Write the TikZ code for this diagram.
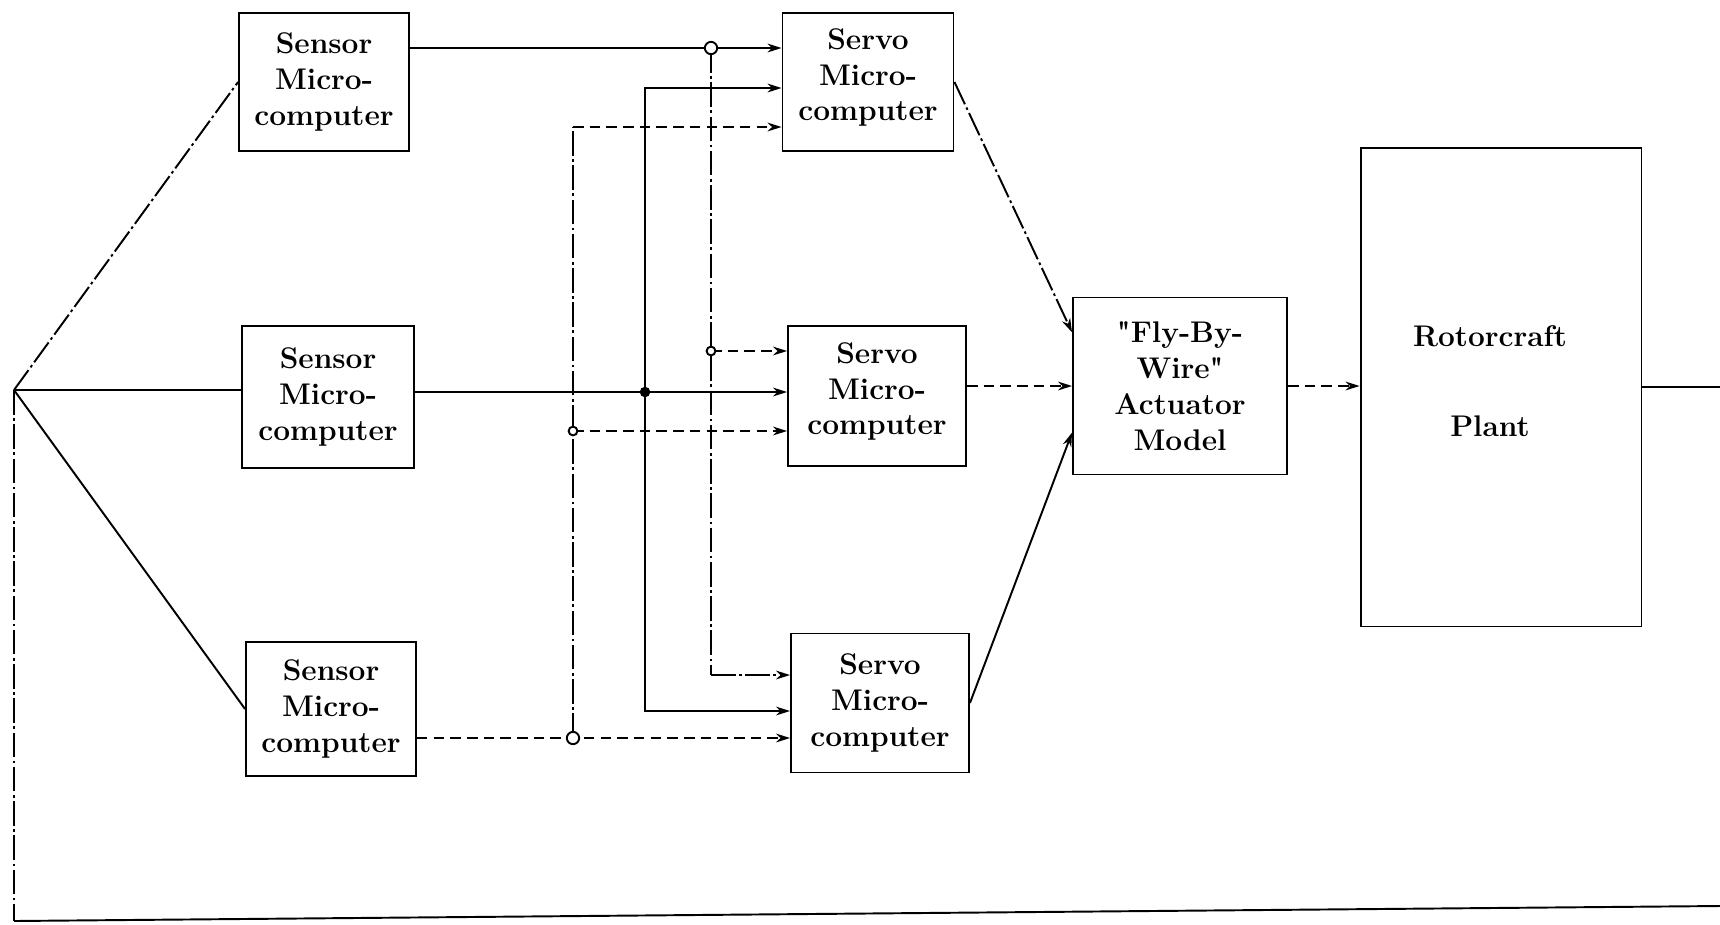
\documentclass[tikz,border=0pt]{standalone}
\usepackage{fontspec}
\setmainfont{Latin Modern Roman}[Ligatures=TeXOff]
\usetikzlibrary{arrows.meta,calc}
\begin{document}
\begin{tikzpicture}[x=0.02cm,y=-0.02cm,
  every node/.style={font=\fontsize{17}{20.4}\selectfont\bfseries},
  box/.style={draw,line width=1.1pt,align=center,inner sep=0pt},
  wire/.style={line width=1.1pt},
  brokenwire/.style={wire,dash pattern=on 14pt off 2pt on 1.5pt off 2pt},
  dashwire/.style={wire,dash pattern=on 6pt off 3.5pt},
  feed/.style={-{Stealth[length=8pt,width=5pt]}},
  tap/.style={wire,fill=white}]
\useasboundingbox (0,0) rectangle (1720,924);
\node (s1) [box,minimum width=3.40cm,minimum height=2.76cm] at (324,82) {Sensor\\Micro-\\computer};
\node (s2) [box,minimum width=3.44cm,minimum height=2.84cm] at (328,397) {Sensor\\Micro-\\computer};
\node (s3) [box,minimum width=3.40cm,minimum height=2.68cm] at (331,709) {Sensor\\Micro-\\computer};
\node (v1) [box,minimum width=3.42cm,minimum height=2.76cm] at (868,82) {Servo\\Micro-\\computer\\[-12pt]};
\node (v2) [box,minimum width=3.56cm,minimum height=2.80cm] at (877,396) {Servo\\Micro-\\computer\\[-12pt]};
\node (v3) [box,minimum width=3.56cm,minimum height=2.78cm] at (880,703) {Servo\\Micro-\\computer};
\node (fbw) [box,minimum width=4.28cm,minimum height=3.54cm] at (1180,386) {"Fly-By-\\Wire"\\Actuator\\Model};
\node (plant) [box,minimum width=5.62cm,minimum height=9.58cm] at (1501,387) {};
\node (plantname) [align=center] at (1490,381) {Rotorcraft\\[31pt]Plant};
\coordinate (jn) at (14,390);
\coordinate (a1) at (711,48);
\coordinate (a2) at (711,351);
\coordinate (a3) at (711,675);
\coordinate (b0) at (645,392);
\coordinate (b1) at (645,88);
\coordinate (b3) at (645,711);
\coordinate (c0) at (573,738);
\coordinate (c1) at (573,127);
\coordinate (c2) at (573,431);
\coordinate (f1) at ($(fbw.north west)!0.2!(fbw.south west)$);
\coordinate (f3) at ($(fbw.north west)!0.76!(fbw.south west)$);
\coordinate (re) at (1720,386);
\coordinate (br) at (1720,906);
\coordinate (bl) at (14,921);
\draw[brokenwire] (jn) -- (s1.west);
\draw[wire] (jn) -- (jn -| s2.west);
\draw[wire] (jn) -- (s3.west);
\draw[brokenwire] (jn) -- (bl);
\draw[wire] (bl) -- (br);
\draw[wire] (plant.east) -- (plant.east -| re);
\draw[wire] (s1.east |- a1) -- (a1);
\draw[wire,feed] (a1) -- (a1 -| v1.west);
\draw[brokenwire] (a1) -- (a3);
\draw[dashwire,feed] (a2) -- (a2 -| v2.west);
\draw[brokenwire,feed] (a3) -- (a3 -| v3.west);
\draw[wire,feed] (s2.east |- b0) -- (b0 -| v2.west);
\draw[wire,feed] (b0) -- (b1) -- (b1 -| v1.west);
\draw[wire,feed] (b0) -- (b3) -- (b3 -| v3.west);
\draw[dashwire,feed] (s3.east |- c0) -- (c0 -| v3.west);
\draw[brokenwire] (c0) -- (c1);
\draw[dashwire,feed] (c1) -- (c1 -| v1.west);
\draw[dashwire,feed] (c2) -- (c2 -| v2.west);
\draw[brokenwire,feed] (v1.east) -- (f1);
\draw[dashwire,feed] (fbw.west -| v2.east) -- (fbw.west);
\draw[wire,feed] (v3.east) -- (f3);
\draw[dashwire,feed] (fbw.east) -- (fbw.east -| plant.west);
\draw[tap] (a1) circle (3.5pt);
\draw[tap] (c0) circle (3.5pt);
\draw[tap] (a2) circle (2.5pt);
\draw[tap] (c2) circle (2.5pt);
\fill (b0) circle (3pt);
\end{tikzpicture}
\end{document}
